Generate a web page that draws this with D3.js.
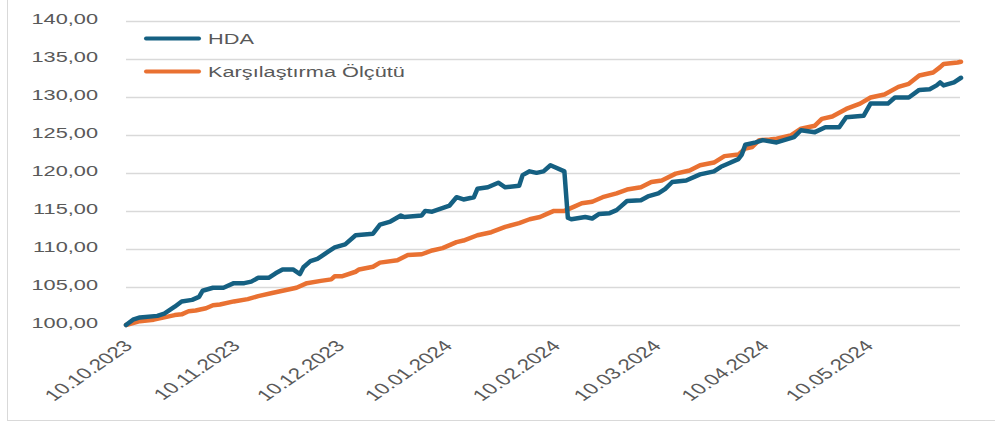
<!DOCTYPE html>
<html>
<head>
<meta charset="utf-8">
<script src="https://cdn.jsdelivr.net/npm/d3@7"></script>
<style>
  body { margin: 0; background: #fff; }
  svg { display: block; }
</style>
</head>
<body>
<svg id="chart" width="995" height="423"></svg>
<script>
// seri verileri
const hdaDates = [
  "2023-10-10","2023-10-12","2023-10-14","2023-10-19","2023-10-21","2023-10-24","2023-10-26","2023-10-29","2023-10-31",
  "2023-11-01","2023-11-04","2023-11-07","2023-11-10","2023-11-13","2023-11-15","2023-11-17","2023-11-20","2023-11-22",
  "2023-11-24","2023-11-27","2023-11-29","2023-11-30","2023-12-02","2023-12-04","2023-12-05","2023-12-07","2023-12-09",
  "2023-12-12","2023-12-15","2023-12-20","2023-12-22","2023-12-25","2023-12-28","2023-12-29","2024-01-03","2024-01-04",
  "2024-01-06","2024-01-11","2024-01-13","2024-01-15","2024-01-18","2024-01-19","2024-01-22","2024-01-25","2024-01-27",
  "2024-01-31","2024-02-01","2024-02-03","2024-02-05","2024-02-07","2024-02-09","2024-02-13","2024-02-14","2024-02-15",
  "2024-02-19","2024-02-21","2024-02-23","2024-02-26","2024-02-28","2024-02-29","2024-03-02","2024-03-06","2024-03-08",
  "2024-03-11","2024-03-13","2024-03-15","2024-03-19","2024-03-23","2024-03-27","2024-03-29","2024-03-31","2024-04-03",
  "2024-04-04","2024-04-05","2024-04-08","2024-04-10","2024-04-14","2024-04-19","2024-04-21","2024-04-25","2024-04-28",
  "2024-05-02","2024-05-04","2024-05-09","2024-05-11","2024-05-16","2024-05-18","2024-05-22","2024-05-25","2024-05-28",
  "2024-05-30","2024-05-31","2024-06-01","2024-06-04","2024-06-06"
];
const hdaValues = [
  100.0,100.7,101.0,101.2,101.5,102.4,103.1,103.3,103.7,
  104.5,104.9,104.9,105.5,105.5,105.7,106.2,106.2,106.8,
  107.3,107.3,106.7,107.6,108.4,108.7,109.0,109.6,110.2,
  110.6,111.8,112.0,113.2,113.6,114.4,114.2,114.4,115.0,
  114.9,115.7,116.8,116.5,116.8,117.9,118.1,118.7,118.1,
  118.3,119.7,120.2,120.0,120.2,121.0,120.2,114.1,113.9,
  114.2,114.0,114.6,114.7,115.1,115.5,116.3,116.4,116.9,
  117.3,117.9,118.8,119.0,119.8,120.2,120.8,121.2,121.8,
  122.4,123.7,124.0,124.3,124.0,124.7,125.6,125.35,126.0,
  126.0,127.3,127.5,129.1,129.1,129.9,129.9,130.9,131.0,
  131.5,131.9,131.5,131.9,132.5
];

const olcutDates = [
  "2023-10-10","2023-10-14","2023-10-16","2023-10-18","2023-10-21","2023-10-24","2023-10-26","2023-10-28","2023-10-30",
  "2023-11-02","2023-11-04","2023-11-06","2023-11-10","2023-11-14","2023-11-17","2023-11-21","2023-11-25","2023-11-28",
  "2023-12-01","2023-12-05","2023-12-08","2023-12-09","2023-12-11","2023-12-15","2023-12-16","2023-12-20","2023-12-22",
  "2023-12-27","2023-12-30","2024-01-03","2024-01-06","2024-01-09","2024-01-11","2024-01-13","2024-01-15","2024-01-19",
  "2024-01-23","2024-01-27","2024-01-31","2024-02-03","2024-02-06","2024-02-08","2024-02-10","2024-02-13","2024-02-16",
  "2024-02-18","2024-02-21","2024-02-24","2024-02-28","2024-03-02","2024-03-06","2024-03-09","2024-03-12","2024-03-16",
  "2024-03-20","2024-03-23","2024-03-27","2024-03-30","2024-04-03","2024-04-05","2024-04-07","2024-04-09","2024-04-12",
  "2024-04-14","2024-04-18","2024-04-21","2024-04-25","2024-04-27","2024-04-30","2024-05-04","2024-05-08","2024-05-11",
  "2024-05-15","2024-05-19","2024-05-22","2024-05-25","2024-05-29","2024-05-31","2024-06-01","2024-06-05","2024-06-06"
];
const olcutValues = [
  100.0,100.5,100.6,100.7,101.0,101.3,101.4,101.8,101.9,
  102.2,102.6,102.7,103.1,103.4,103.8,104.2,104.6,104.9,
  105.5,105.8,106.0,106.4,106.4,107.0,107.3,107.65,108.2,
  108.5,109.2,109.3,109.8,110.1,110.5,110.9,111.1,111.8,
  112.2,112.9,113.4,113.9,114.2,114.6,115.0,115.0,115.6,
  116.0,116.2,116.8,117.3,117.8,118.1,118.8,119.0,119.9,
  120.3,121.0,121.35,122.2,122.4,123.2,123.4,124.3,124.4,
  124.5,124.9,125.8,126.2,127.1,127.4,128.4,129.1,129.9,
  130.3,131.3,131.7,132.8,133.2,133.9,134.3,134.5,134.6
];

const seriesNames = ["HDA", "Karşılaştırma Ölçütü"];
const seriesColors = ["#156082", "#E97132"];
const yTicks = [100, 105, 110, 115, 120, 125, 130, 135, 140];
const xTickLabels = ["10.10.2023","10.11.2023","10.12.2023","10.01.2024","10.02.2024","10.03.2024","10.04.2024","10.05.2024"];

const svg = d3.select("#chart");
const parse = d3.timeParse("%Y-%m-%d");
const parseLabel = d3.timeParse("%d.%m.%Y");
const SX = 1.45; // metin yatay esnetme
const textColor = "#595959";
const font = "'Liberation Sans', Arial, sans-serif";

const hda = hdaDates.map((d, i) => ({ date: parse(d), value: hdaValues[i] }));
const olcut = olcutDates.map((d, i) => ({ date: parse(d), value: olcutValues[i] }));

const x = d3.scaleTime()
  .domain([parse("2023-10-10"), parse("2024-06-06")])
  .range([126, 961]);
const y = d3.scaleLinear()
  .domain([100, 140])
  .range([325, 20.7]);

// çerçeve
svg.append("rect")
  .attr("x", 7.5).attr("y", -5)
  .attr("width", 1000).attr("height", 425.5)
  .attr("fill", "none")
  .attr("stroke", "#d9d9d9")
  .attr("stroke-width", 1);

// yatay ızgara
svg.append("g")
  .selectAll("line")
  .data(yTicks)
  .enter().append("line")
  .attr("x1", 126).attr("x2", 960)
  .attr("y1", d => Math.round(y(d)) + 0.5)
  .attr("y2", d => Math.round(y(d)) + 0.5)
  .attr("stroke", "#d9d9d9")
  .attr("stroke-width", 1.3);

// Y ekseni etiketleri
const fmt = d => d3.format(".2f")(d).replace(".", ",");
svg.append("g")
  .selectAll("text")
  .data(yTicks)
  .enter().append("text")
  .attr("transform", d => `translate(98,${y(d) + 3}) scale(${SX},1)`)
  .attr("text-anchor", "end")
  .attr("font-family", font)
  .attr("font-size", 15)
  .attr("fill", textColor)
  .text(fmt);

// X ekseni etiketleri
svg.append("g")
  .selectAll("text")
  .data(xTickLabels)
  .enter().append("text")
  .attr("transform", d => `translate(${x(parseLabel(d)) + 2},${343}) scale(${SX},1) rotate(-45)`)
  .attr("text-anchor", "end")
  .attr("dy", "0.35em")
  .attr("font-family", font)
  .attr("font-size", 15.5)
  .attr("fill", textColor)
  .text(d => d);

// çizgiler
const line = d3.line()
  .x(d => x(d.date))
  .y(d => y(d.value));

[olcut, hda].forEach((s, i) => {
  const c = i === 0 ? seriesColors[1] : seriesColors[0];
  svg.append("path")
    .datum(s)
    .attr("d", line)
    .attr("fill", "none")
    .attr("stroke", c)
    .attr("stroke-width", 4.5)
    .attr("stroke-linejoin", "round")
    .attr("stroke-linecap", "round");
});

// lejant
const legend = svg.append("g");
seriesNames.forEach((name, i) => {
  const ly = 38.5 + i * 33;
  legend.append("line")
    .attr("x1", 146).attr("x2", 199)
    .attr("y1", ly).attr("y2", ly)
    .attr("stroke", seriesColors[i])
    .attr("stroke-width", 4)
    .attr("stroke-linecap", "round");
  legend.append("text")
    .attr("transform", `translate(208,${ly + 5}) scale(${SX},1)`)
    .attr("font-family", font)
    .attr("font-size", 15)
    .attr("fill", textColor)
    .text(name);
});
</script>
</body>
</html>
